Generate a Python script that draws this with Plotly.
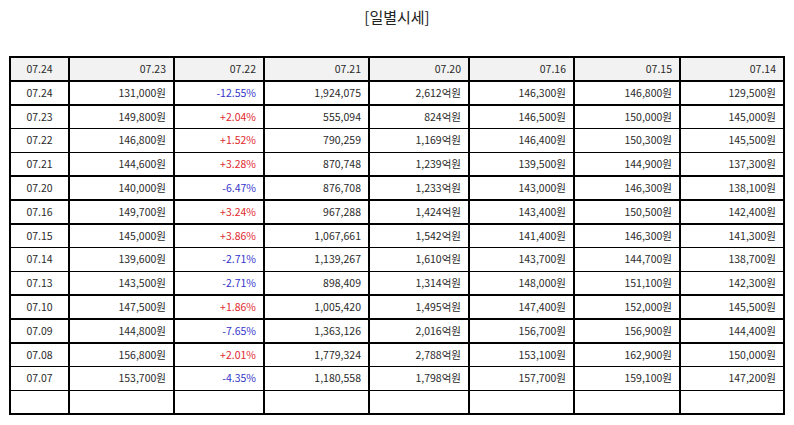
import plotly.graph_objects as go

header_labels = ["07.24", "07.23", "07.22", "07.21", "07.20", "07.16", "07.15", "07.14"]
dates = ["07.24", "07.23", "07.22", "07.21", "07.20", "07.16", "07.15", "07.14",
         "07.13", "07.10", "07.09", "07.08", "07.07"]
close = [131000, 149800, 146800, 144600, 140000, 149700, 145000, 139600,
         143500, 147500, 144800, 156800, 153700]
change_pct = [-12.55, 2.04, 1.52, 3.28, -6.47, 3.24, 3.86, -2.71,
              -2.71, 1.86, -7.65, 2.01, -4.35]
volume = [1924075, 555094, 790259, 870748, 876708, 967288, 1067661, 1139267,
          898409, 1005420, 1363126, 1779324, 1180558]
amount_eok = [2612, 824, 1169, 1239, 1233, 1424, 1542, 1610,
              1314, 1495, 2016, 2788, 1798]
open_p = [146300, 146500, 146400, 139500, 143000, 143400, 141400, 143700,
          148000, 147400, 156700, 153100, 157700]
high_p = [146800, 150000, 150300, 144900, 146300, 150500, 146300, 144700,
          151100, 152000, 156900, 162900, 159100]
low_p = [129500, 145000, 145500, 137300, 138100, 142400, 141300, 138700,
         142300, 145500, 144400, 150000, 147200]

RED = "#e0282e"
BLUE = "#3535cc"
TXT = "#2a2a2a"

def won(v):
    return f"{v:,}원"

col_date = dates + [""]
col_close = [won(v) for v in close] + [""]
col_pct = [f"{v:+.2f}%" for v in change_pct] + [""]
col_vol = [f"{v:,}" for v in volume] + [""]
col_amt = [f"{v:,}억원" for v in amount_eok] + [""]
col_open = [won(v) for v in open_p] + [""]
col_high = [won(v) for v in high_p] + [""]
col_low = [won(v) for v in low_p] + [""]

pct_colors = [RED if v > 0 else BLUE for v in change_pct] + [TXT]
n = len(col_date)
plain = [TXT] * n

fig = go.Figure(go.Table(
    columnwidth=[59, 105, 90, 105, 100, 105, 106, 104],
    header=dict(
        values=header_labels,
        fill_color="#f2f2f2",
        line=dict(color="black", width=1.5),
        align=["center"] + ["right"] * 7,
        font=dict(family="Noto Sans CJK KR", size=10.5, color=TXT),
        height=24,
    ),
    cells=dict(
        values=[col_date, col_close, col_pct, col_vol, col_amt, col_open, col_high, col_low],
        fill_color="white",
        line=dict(color="black", width=1.5),
        align=["center"] + ["right"] * 7,
        font=dict(family="Noto Sans CJK KR", size=10.5,
                  color=[plain, plain, pct_colors, plain, plain, plain, plain, plain]),
        height=23.8,
    ),
))

fig.update_layout(
    width=794, height=425,
    margin=dict(l=10, r=10, t=57, b=0),
    paper_bgcolor="white",
    title=dict(text="[일별시세]", x=0.5, xanchor="center", y=0.958, yanchor="middle",
               font=dict(family="Noto Sans CJK KR", size=15, color="#222222")),
)

fig.write_html("out.html", config={"displayModeBar": False},
               post_script="document.body.style.margin='0';")
